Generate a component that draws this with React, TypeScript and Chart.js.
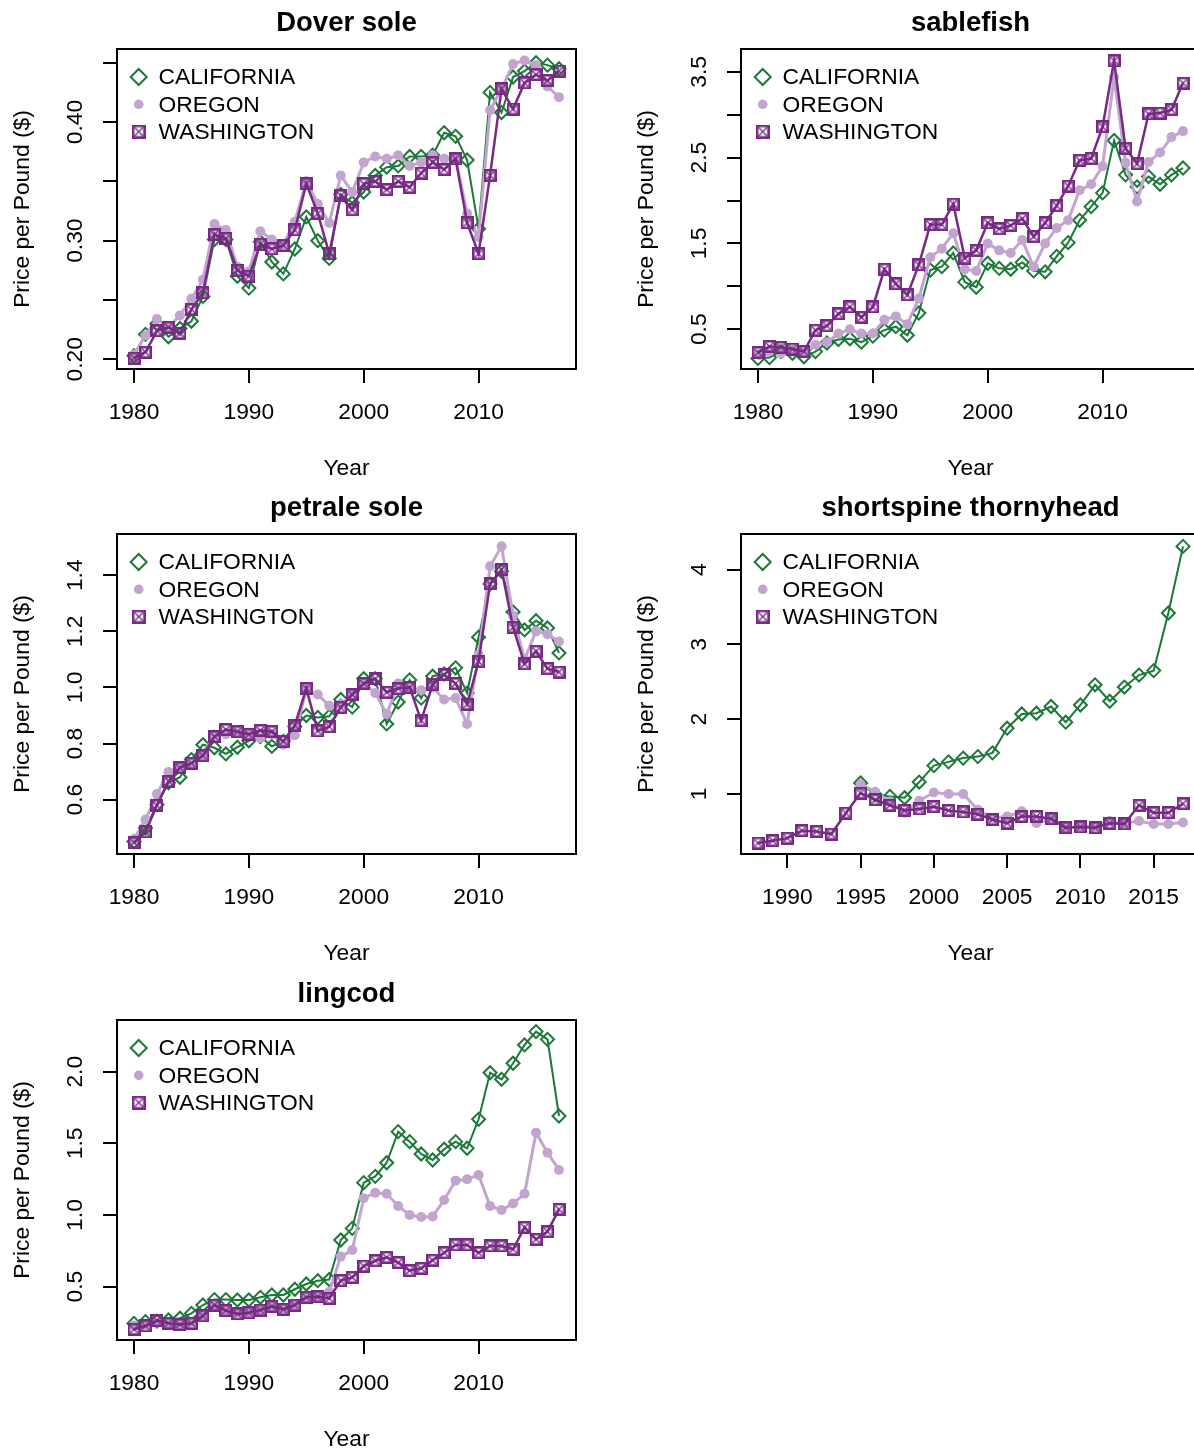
import React, { useEffect, useRef } from "react";
import { Chart, registerables } from "chart.js";

Chart.register(...registerables);

// ---------- data ----------
const SERIES_NAMES = ["CALIFORNIA", "OREGON", "WASHINGTON"];

const YEARS_1980_2017 = [
  1980, 1981, 1982, 1983, 1984, 1985, 1986, 1987, 1988, 1989,
  1990, 1991, 1992, 1993, 1994, 1995, 1996, 1997, 1998, 1999,
  2000, 2001, 2002, 2003, 2004, 2005, 2006, 2007, 2008, 2009,
  2010, 2011, 2012, 2013, 2014, 2015, 2016, 2017,
];
const YEARS_1988_2017 = [
  1988, 1989, 1990, 1991, 1992, 1993, 1994, 1995, 1996, 1997,
  1998, 1999, 2000, 2001, 2002, 2003, 2004, 2005, 2006, 2007,
  2008, 2009, 2010, 2011, 2012, 2013, 2014, 2015, 2016, 2017,
];
const YEARS_1995_2017 = [
  1995, 1996, 1997, 1998, 1999, 2000, 2001, 2002, 2003, 2004,
  2005, 2006, 2007, 2008, 2009, 2010, 2011, 2012, 2013, 2014,
  2015, 2016, 2017,
];

const DOVER_CA = [
  0.203, 0.221, 0.230, 0.219, 0.226, 0.232, 0.253, 0.301, 0.301, 0.270,
  0.260, 0.299, 0.282, 0.272, 0.293, 0.320, 0.300, 0.285, 0.339, 0.332,
  0.341, 0.355, 0.362, 0.363, 0.371, 0.371, 0.372, 0.391, 0.388, 0.368,
  0.310, 0.425, 0.408, 0.438, 0.443, 0.450, 0.448, 0.445,
];
const DOVER_OR = [
  0.204, 0.220, 0.234, 0.227, 0.237, 0.251, 0.267, 0.314, 0.309, 0.278,
  0.274, 0.308, 0.301, 0.297, 0.316, 0.350, 0.331, 0.315, 0.355, 0.341,
  0.366, 0.371, 0.369, 0.372, 0.363, 0.366, 0.372, 0.369, 0.369, 0.323,
  0.303, 0.410, 0.428, 0.449, 0.452, 0.448, 0.430, 0.421,
];
const DOVER_WA = [
  0.201, 0.206, 0.224, 0.227, 0.222, 0.242, 0.256, 0.305, 0.302, 0.275,
  0.270, 0.297, 0.293, 0.296, 0.309, 0.348, 0.323, 0.289, 0.338, 0.326,
  0.348, 0.350, 0.343, 0.350, 0.345, 0.357, 0.366, 0.360, 0.369, 0.315,
  0.289, 0.355, 0.428, 0.411, 0.433, 0.440, 0.435, 0.443,
];

const SABLE_CA = [
  0.16, 0.17, 0.24, 0.22, 0.18, 0.24, 0.34, 0.38, 0.39, 0.35,
  0.42, 0.49, 0.53, 0.43, 0.69, 1.19, 1.23, 1.39, 1.05, 0.99,
  1.27, 1.21, 1.20, 1.28, 1.18, 1.17, 1.35, 1.51, 1.77, 1.93,
  2.09, 2.70, 2.30, 2.16, 2.28, 2.19, 2.30, 2.38,
];
const SABLE_OR = [
  0.21, 0.24, 0.22, 0.24, 0.22, 0.32, 0.35, 0.45, 0.50, 0.45,
  0.45, 0.61, 0.65, 0.56, 0.86, 1.34, 1.44, 1.62, 1.20, 1.18,
  1.50, 1.42, 1.39, 1.54, 1.23, 1.50, 1.68, 1.77, 2.12, 2.19,
  2.40, 3.44, 2.44, 1.99, 2.45, 2.56, 2.74, 2.81,
];
const SABLE_WA = [
  0.23, 0.30, 0.29, 0.27, 0.24, 0.49, 0.54, 0.68, 0.76, 0.64,
  0.76, 1.20, 1.03, 0.90, 1.25, 1.72, 1.72, 1.96, 1.33, 1.42,
  1.74, 1.67, 1.71, 1.79, 1.58, 1.74, 1.94, 2.17, 2.47, 2.49,
  2.86, 3.63, 2.61, 2.43, 3.01, 3.02, 3.06, 3.37,
];

const PETRALE_CA = [
  0.451, 0.499, 0.582, 0.660, 0.680, 0.743, 0.796, 0.785, 0.763, 0.787,
  0.810, 0.825, 0.790, 0.808, 0.861, 0.900, 0.893, 0.897, 0.957, 0.930,
  1.031, 1.031, 0.870, 0.948, 1.027, 0.962, 1.040, 1.048, 1.070, 0.980,
  1.179, 1.369, 1.414, 1.269, 1.205, 1.238, 1.212, 1.123,
];
const PETRALE_OR = [
  0.460, 0.529, 0.620, 0.699, 0.715, 0.730, 0.760, 0.832, 0.833, 0.837,
  0.830, 0.820, 0.833, 0.796, 0.830, 0.992, 0.975, 0.935, 0.940, 0.975,
  1.014, 0.980, 0.905, 1.014, 1.000, 0.990, 1.000, 0.957, 0.962, 0.870,
  1.117, 1.432, 1.503, 1.256, 1.100, 1.200, 1.190, 1.164,
];
const PETRALE_WA = [
  0.447, 0.485, 0.580, 0.666, 0.714, 0.730, 0.757, 0.825, 0.850, 0.842,
  0.833, 0.847, 0.843, 0.808, 0.865, 0.996, 0.845, 0.860, 0.929, 0.975,
  1.014, 1.031, 0.983, 0.996, 1.000, 0.882, 1.010, 1.045, 1.014, 0.940,
  1.093, 1.369, 1.420, 1.214, 1.084, 1.129, 1.067, 1.055,
];

const THORNY_CA = [
  1.147, 0.99, 0.968, 0.95, 1.16, 1.38, 1.43, 1.48, 1.50, 1.55,
  1.88, 2.07, 2.08, 2.17, 1.96, 2.19, 2.46, 2.24, 2.43, 2.59,
  2.65, 3.42, 4.31,
];
const THORNY_OR = [
  1.13, 1.03, 0.90, 0.75, 0.91, 1.02, 1.00, 1.00, 0.79, 0.68,
  0.70, 0.77, 0.61, 0.67, 0.55, 0.57, 0.57, 0.64, 0.61, 0.64,
  0.60, 0.60, 0.62,
];
const THORNY_WA = [
  0.345, 0.376, 0.41, 0.51, 0.50, 0.465, 0.746, 1.013, 0.924, 0.85,
  0.78, 0.80, 0.83, 0.78, 0.76, 0.73, 0.66, 0.61, 0.70, 0.70,
  0.67, 0.55, 0.56, 0.55, 0.61, 0.60, 0.85, 0.75, 0.75, 0.87,
];

const LING_CA = [
  0.244, 0.256, 0.260, 0.268, 0.280, 0.314, 0.372, 0.410, 0.410, 0.407,
  0.407, 0.426, 0.442, 0.442, 0.482, 0.519, 0.542, 0.550, 0.826, 0.907,
  1.226, 1.270, 1.365, 1.582, 1.512, 1.426, 1.384, 1.459, 1.512, 1.466,
  1.668, 1.993, 1.947, 2.059, 2.187, 2.280, 2.226, 1.691,
];
const LING_OR = [
  0.230, 0.240, 0.250, 0.245, 0.240, 0.256, 0.300, 0.372, 0.337, 0.320,
  0.326, 0.340, 0.363, 0.347, 0.380, 0.430, 0.430, 0.465, 0.710, 0.756,
  1.117, 1.156, 1.148, 1.063, 1.000, 0.986, 0.990, 1.105, 1.240, 1.250,
  1.280, 1.063, 1.035, 1.080, 1.148, 1.575, 1.435, 1.314,
];
const LING_WA = [
  0.203, 0.226, 0.263, 0.245, 0.237, 0.245, 0.296, 0.372, 0.333, 0.310,
  0.318, 0.337, 0.363, 0.342, 0.372, 0.426, 0.430, 0.419, 0.542, 0.565,
  0.644, 0.681, 0.705, 0.668, 0.612, 0.628, 0.685, 0.737, 0.791, 0.791,
  0.737, 0.784, 0.784, 0.761, 0.914, 0.831, 0.884, 1.040,
];

const X_TICKS_DECADE = [1980, 1990, 2000, 2010];
const X_TICKS_FIVE = [1990, 1995, 2000, 2005, 2010, 2015];

const DOVER_Y_TICKS = [0.2, 0.25, 0.3, 0.35, 0.4, 0.45];
const DOVER_Y_LABELS = ["0.20", "", "0.30", "", "0.40", ""];
const SABLE_Y_TICKS = [0.5, 1, 1.5, 2, 2.5, 3, 3.5];
const SABLE_Y_LABELS = ["0.5", "", "1.5", "", "2.5", "", "3.5"];
const PETRALE_Y_TICKS = [0.6, 0.8, 1.0, 1.2, 1.4];
const PETRALE_Y_LABELS = ["0.6", "0.8", "1.0", "1.2", "1.4"];
const THORNY_Y_TICKS = [1, 2, 3, 4];
const THORNY_Y_LABELS = ["1", "2", "3", "4"];
const LING_Y_TICKS = [0.5, 1.0, 1.5, 2.0];
const LING_Y_LABELS = ["0.5", "1.0", "1.5", "2.0"];

// ---------- styles ----------
const FONT = '"Liberation Sans", Arial, Helvetica, sans-serif';
const TEXT_PX = 22.8;
const TITLE_PX = 27.5;
const CA_COLOR = "#1b7837";
const OR_COLOR = "#c2a5cf";
const WA_COLOR = "#762a83";

const CANVAS_W = 597;
const CANVAS_H = 485;
const AREA_LEFT = 117;
const AREA_RIGHT = 576;
const AREA_TOP = 49;
const AREA_BOTTOM = 369;

type PanelCfg = {
  title: string;
  years: number[][];
  values: number[][];
  xMin: number;
  xMax: number;
  xTicks: number[];
  yMin: number;
  yMax: number;
  yTicks: number[];
  yLabels: string[];
};

const PANELS: { cfg: PanelCfg; left: number; top: number }[] = [
  {
    left: 0,
    top: 0,
    cfg: {
      title: "Dover sole",
      years: [YEARS_1980_2017, YEARS_1980_2017, YEARS_1980_2017],
      values: [DOVER_CA, DOVER_OR, DOVER_WA],
      xMin: 1978.52, xMax: 2018.48, xTicks: X_TICKS_DECADE,
      yMin: 0.1918, yMax: 0.4616, yTicks: DOVER_Y_TICKS, yLabels: DOVER_Y_LABELS,
    },
  },
  {
    left: 624,
    top: 0,
    cfg: {
      title: "sablefish",
      years: [YEARS_1980_2017, YEARS_1980_2017, YEARS_1980_2017],
      values: [SABLE_CA, SABLE_OR, SABLE_WA],
      xMin: 1978.52, xMax: 2018.48, xTicks: X_TICKS_DECADE,
      yMin: 0.037, yMax: 3.767, yTicks: SABLE_Y_TICKS, yLabels: SABLE_Y_LABELS,
    },
  },
  {
    left: 0,
    top: 485,
    cfg: {
      title: "petrale sole",
      years: [YEARS_1980_2017, YEARS_1980_2017, YEARS_1980_2017],
      values: [PETRALE_CA, PETRALE_OR, PETRALE_WA],
      xMin: 1978.52, xMax: 2018.48, xTicks: X_TICKS_DECADE,
      yMin: 0.4064, yMax: 1.547, yTicks: PETRALE_Y_TICKS, yLabels: PETRALE_Y_LABELS,
    },
  },
  {
    left: 624,
    top: 485,
    cfg: {
      title: "shortspine thornyhead",
      years: [YEARS_1995_2017, YEARS_1995_2017, YEARS_1988_2017],
      values: [THORNY_CA, THORNY_OR, THORNY_WA],
      xMin: 1986.84, xMax: 2018.16, xTicks: X_TICKS_FIVE,
      yMin: 0.198, yMax: 4.476, yTicks: THORNY_Y_TICKS, yLabels: THORNY_Y_LABELS,
    },
  },
  {
    left: 0,
    top: 971,
    cfg: {
      title: "lingcod",
      years: [YEARS_1980_2017, YEARS_1980_2017, YEARS_1980_2017],
      values: [LING_CA, LING_OR, LING_WA],
      xMin: 1978.52, xMax: 2018.48, xTicks: X_TICKS_DECADE,
      yMin: 0.128, yMax: 2.361, yTicks: LING_Y_TICKS, yLabels: LING_Y_LABELS,
    },
  },
];

function makeBoxX(size: number): HTMLCanvasElement {
  const c = document.createElement("canvas");
  c.width = size;
  c.height = size;
  const g = c.getContext("2d")!;
  g.strokeStyle = WA_COLOR;
  g.lineWidth = 2.6;
  g.strokeRect(1.3, 1.3, size - 2.6, size - 2.6);
  g.lineWidth = 1.3;
  g.beginPath();
  g.moveTo(3, 3);
  g.lineTo(size - 3, size - 3);
  g.moveTo(size - 3, 3);
  g.lineTo(3, size - 3);
  g.stroke();
  return c;
}

function Panel({ cfg, left, top }: { cfg: PanelCfg; left: number; top: number }) {
  const ref = useRef<HTMLCanvasElement | null>(null);

  useEffect(() => {
    if (!ref.current) return;
    const boxX = makeBoxX(13);
    const boxXLegend = makeBoxX(14);

    const decor = {
      id: "decor",
      afterDraw(chart: any) {
        const { ctx, chartArea: a, scales } = chart;
        ctx.save();
        ctx.strokeStyle = "#000";
        ctx.lineWidth = 2;
        ctx.strokeRect(a.left, a.top, a.right - a.left, a.bottom - a.top);

        ctx.fillStyle = "#000";
        ctx.textAlign = "center";
        ctx.textBaseline = "middle";
        const cx = (a.left + a.right) / 2;
        ctx.font = `bold ${TITLE_PX}px ${FONT}`;
        ctx.fillText(cfg.title, cx, 23);

        ctx.font = `${TEXT_PX}px ${FONT}`;
        cfg.xTicks.forEach((v) => {
          ctx.fillText(String(v), scales.x.getPixelForValue(v), a.bottom + 43.5);
        });
        ctx.fillText("Year", cx, a.bottom + 99.5);

        cfg.yTicks.forEach((v, i) => {
          const lab = cfg.yLabels[i];
          if (!lab) return;
          ctx.save();
          ctx.translate(a.left - 41.5, scales.y.getPixelForValue(v));
          ctx.rotate(-Math.PI / 2);
          ctx.fillText(lab, 0, 0);
          ctx.restore();
        });

        ctx.save();
        ctx.translate(a.left - 94.5, (a.top + a.bottom) / 2);
        ctx.rotate(-Math.PI / 2);
        ctx.fillText("Price per Pound ($)", 0, 0);
        ctx.restore();

        // legend
        const mx = a.left + 21.7;
        const tx = a.left + 41.5;
        const y0 = a.top + 28;
        const dy = 27.3;
        ctx.strokeStyle = CA_COLOR;
        ctx.lineWidth = 2;
        ctx.beginPath();
        const r = 8;
        ctx.moveTo(mx - r, y0);
        ctx.lineTo(mx, y0 - r);
        ctx.lineTo(mx + r, y0);
        ctx.lineTo(mx, y0 + r);
        ctx.closePath();
        ctx.stroke();
        ctx.fillStyle = OR_COLOR;
        ctx.beginPath();
        ctx.arc(mx, y0 + dy, 4.8, 0, Math.PI * 2);
        ctx.fill();
        ctx.drawImage(boxXLegend, mx - 7, y0 + 2 * dy - 7, 14, 14);

        ctx.fillStyle = "#000";
        ctx.textAlign = "left";
        ctx.font = `${TEXT_PX}px ${FONT}`;
        SERIES_NAMES.forEach((n, i) => ctx.fillText(n, tx, y0 + i * dy + 1));
        ctx.restore();
      },
    };

    const styles = [
      {
        borderColor: CA_COLOR,
        backgroundColor: "rgba(0,0,0,0)",
        borderWidth: 2,
        pointStyle: "rectRot",
        pointRadius: 6.5,
        pointBorderWidth: 2,
        pointBorderColor: CA_COLOR,
        pointBackgroundColor: "rgba(0,0,0,0)",
        order: 3,
      },
      {
        borderColor: OR_COLOR,
        backgroundColor: OR_COLOR,
        borderWidth: 3,
        pointStyle: "circle",
        pointRadius: 5,
        pointBorderWidth: 0,
        pointBackgroundColor: OR_COLOR,
        order: 2,
      },
      {
        borderColor: WA_COLOR,
        backgroundColor: WA_COLOR,
        borderWidth: 2.5,
        pointStyle: boxX,
        pointRadius: 6.5,
        pointBorderWidth: 0,
        order: 1,
      },
    ];

    const datasets = cfg.values.map((vals, si) => ({
      label: SERIES_NAMES[si],
      data: vals.map((v, i) => ({ x: cfg.years[si][i], y: v })),
      fill: false,
      tension: 0,
      ...styles[si],
    }));

    const chart = new Chart(ref.current, {
      type: "line",
      data: { datasets } as any,
      options: {
        animation: false,
        responsive: false,
        devicePixelRatio: 1,
        events: [],
        layout: { autoPadding: false, padding: { top: AREA_TOP, right: CANVAS_W - AREA_RIGHT, left: 0, bottom: 0 } },
        plugins: { legend: { display: false }, tooltip: { enabled: false }, title: { display: false } },
        scales: {
          x: {
            type: "linear",
            bounds: "data",
            min: cfg.xMin,
            max: cfg.xMax,
            afterBuildTicks: (s: any) => {
              s.ticks = cfg.xTicks.map((v) => ({ value: v }));
            },
            afterFit: (s: any) => {
              s.height = CANVAS_H - AREA_BOTTOM;
            },
            ticks: { display: false },
            border: { display: false },
            grid: { display: true, drawOnChartArea: false, drawTicks: true, tickLength: 14, color: "#000", lineWidth: 2 },
          },
          y: {
            type: "linear",
            bounds: "data",
            min: cfg.yMin,
            max: cfg.yMax,
            afterBuildTicks: (s: any) => {
              s.ticks = cfg.yTicks.map((v) => ({ value: v }));
            },
            afterFit: (s: any) => {
              s.width = AREA_LEFT;
            },
            ticks: { display: false },
            border: { display: false },
            grid: { display: true, drawOnChartArea: false, drawTicks: true, tickLength: 14, color: "#000", lineWidth: 2 },
          },
        },
      } as any,
      plugins: [decor],
    });
    return () => chart.destroy();
  }, [cfg]);

  return (
    <canvas
      ref={ref}
      width={CANVAS_W}
      height={CANVAS_H}
      style={{ position: "absolute", left, top, width: CANVAS_W, height: CANVAS_H }}
    />
  );
}

export default function App() {
  return (
    <div
      style={{
        position: "absolute",
        left: 0,
        top: 0,
        width: 1194,
        height: 1448,
        overflow: "hidden",
        background: "#fff",
      }}
    >
      {PANELS.map((p, i) => (
        <Panel key={i} cfg={p.cfg} left={p.left} top={p.top} />
      ))}
    </div>
  );
}
